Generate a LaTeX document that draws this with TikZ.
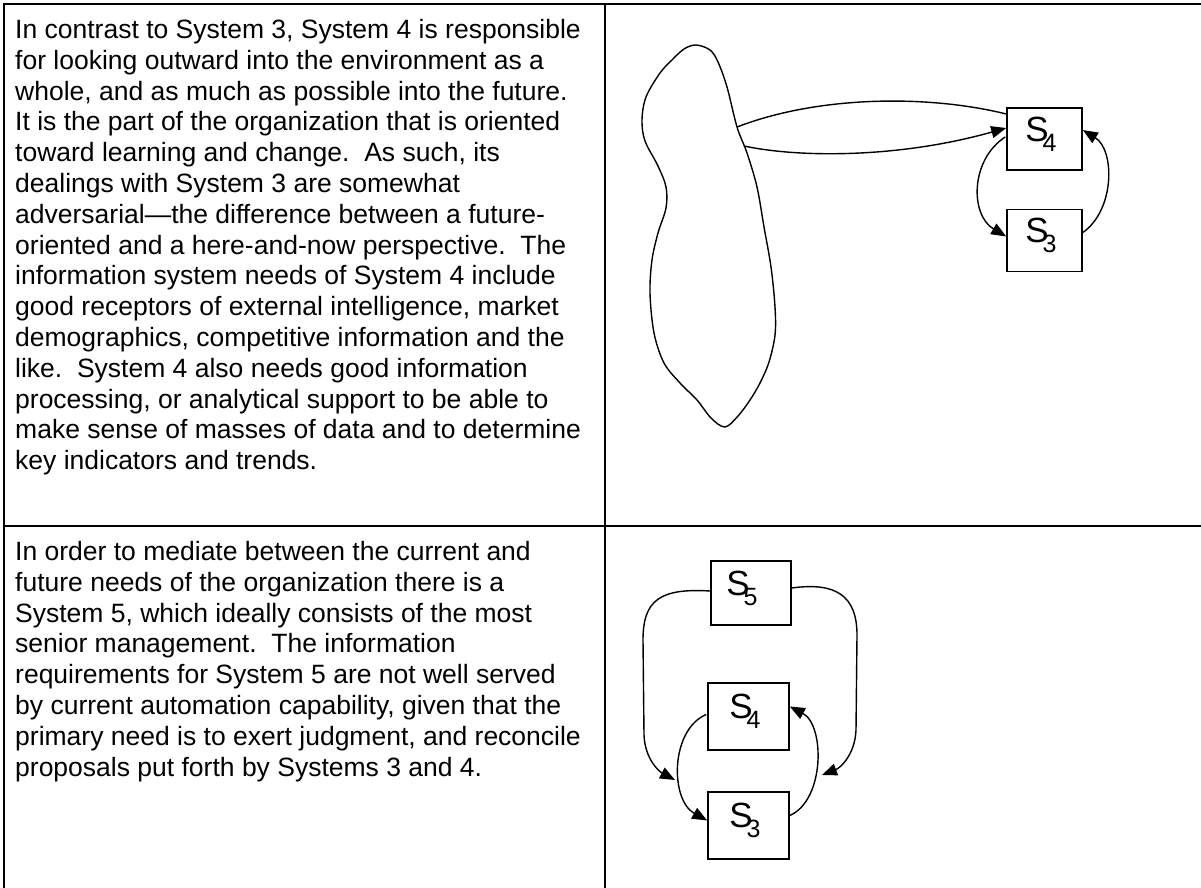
\documentclass[tikz,border=0pt]{standalone}
\usepackage{fontspec}
\setmainfont{Liberation Sans}
\usetikzlibrary{arrows.meta,calc}
\newcommand\Slab[1]{\fontsize{35}{40}\selectfont S\kern-6pt\raisebox{-10pt}{\fontsize{25}{28}\selectfont #1}}
\begin{document}
\frenchspacing
\begin{tikzpicture}[x=1pt,y=-1pt,
  gridline/.style={line width=2pt, line cap=rect},
  sbox/.style={draw, line width=1.6pt, minimum width=75pt, minimum height=62pt, inner sep=0pt},
  sboxb/.style={sbox, minimum width=81pt, minimum height=67pt},
  slab/.style={xshift=-3.5pt, yshift=5pt, inner sep=0pt},
  conn/.style={line width=1.4pt},
  arr/.style={conn, -{Triangle[length=15pt,width=12pt]}},
  para/.style={anchor=north west, inner sep=0pt, align=left, font=\fontsize{26.5}{30.8}\selectfont}
]
\useasboundingbox (0,0) rectangle (1201,888);
% table grid
\draw[gridline] (4,4) -- (1201,4);
\draw[gridline] (4,4) -- (4,888);
\draw[gridline] (605,4) -- (605,888);
\draw[gridline] (4,526) -- (1201,526);

% texts
\node[para] (ptop) at (15,19) {In contrast to System 3, System 4 is responsible\\
for looking outward into the environment as a\\
whole, and as much as possible into the future.\\
It is the part of the organization that is oriented\\
toward learning and change.\ \ As such, its\\
dealings with System 3 are somewhat\\
adversarial—the difference between a future-\\
oriented and a here-and-now perspective.\ \ The\\
information system needs of System 4 include\\
good receptors of external intelligence, market\\
demographics, competitive information and the\\
like.\ \ System 4 also needs good information\\
processing, or analytical support to be able to\\
make sense of masses of data and to determine\\
key indicators and trends.};

\node[para] (pbot) at (15,541) {In order to mediate between the current and\\
future needs of the organization there is a\\
System 5, which ideally consists of the most\\
senior management.\ \ The information\\
requirements for System 5 are not well served\\
by current automation capability, given that the\\
primary need is to exert judgment, and reconcile\\
proposals put forth by Systems 3 and 4.};

% top diagram
\draw[conn] plot[smooth cycle, tension=0.55] coordinates {(696,45) (710,50) (718,62) (727,87) (737,127) (747,153) (757,187) (764,227) (771,267) (775,307) (775,335) (769,362) (760,383) (750,400) (738,416) (725,427) (711,418) (697,400) (680,383) (664,363) (654,333) (650,293) (652,260) (658,233) (666,208) (666,187) (658,166) (645,141) (642,120) (646,97) (660,73) (672,60) (684,49)};
\coordinate (bu) at (737,127);
\coordinate (bl) at (744,146);
\node[sbox, label={[slab]center:\Slab{4}}] (t4) at (1044.5,139) {};
\node[sbox, label={[slab]center:\Slab{3}}] (t3) at (1044.5,240.5) {};
\draw[conn] ($(t4.west)+(0,-25)$) .. controls (930,95) and (820,95) .. (bu);
\draw[arr] (bl) .. controls (800,158) and (900,158) .. ($(t4.west)+(0,-11)$);
\draw[arr] ($(t4.west)+(-1,-2)$) .. controls (970,160) and (970,215) .. ($(t3.west)+(0,-4)$);
\draw[arr] ($(t3.east)+(0,-8)$) .. controls (1115,210) and (1115,150) .. ($(t4.east)+(0,-9)$);

% bottom diagram
\node[sboxb, minimum width=80pt, minimum height=64pt, label={[slab, xshift=-5.5pt]center:\Slab{5}}] (b5) at (751,593) {};
\node[sboxb, label={[slab]center:\Slab{4}}] (b4) at (748.5,716.5) {};
\node[sboxb, label={[slab]center:\Slab{3}}] (b3) at (748.5,825.5) {};
\coordinate (e1) at (675,780);
\coordinate (e2) at (822,775);
\draw[arr] ($(b5.west)+(0,-2)$) .. controls (660,588) and (643,600) .. (643,640) -- (644,735) .. controls (645,760) and (660,772) .. (e1);
\draw[arr] ($(b5.east)+(0,-5)$) .. controls (835,582) and (857,595) .. (857,635) -- (856,730) .. controls (855,755) and (840,768) .. (e2);
\draw[arr] ($(b4.west)+(-1,-2)$) .. controls (670,730) and (670,800) .. ($(b3.west)+(0,-5)$);
\draw[arr] ($(b3.east)+(0,-10)$) .. controls (825,800) and (825,725) .. ($(b4.east)+(0,-10)$);
\end{tikzpicture}
\end{document}
